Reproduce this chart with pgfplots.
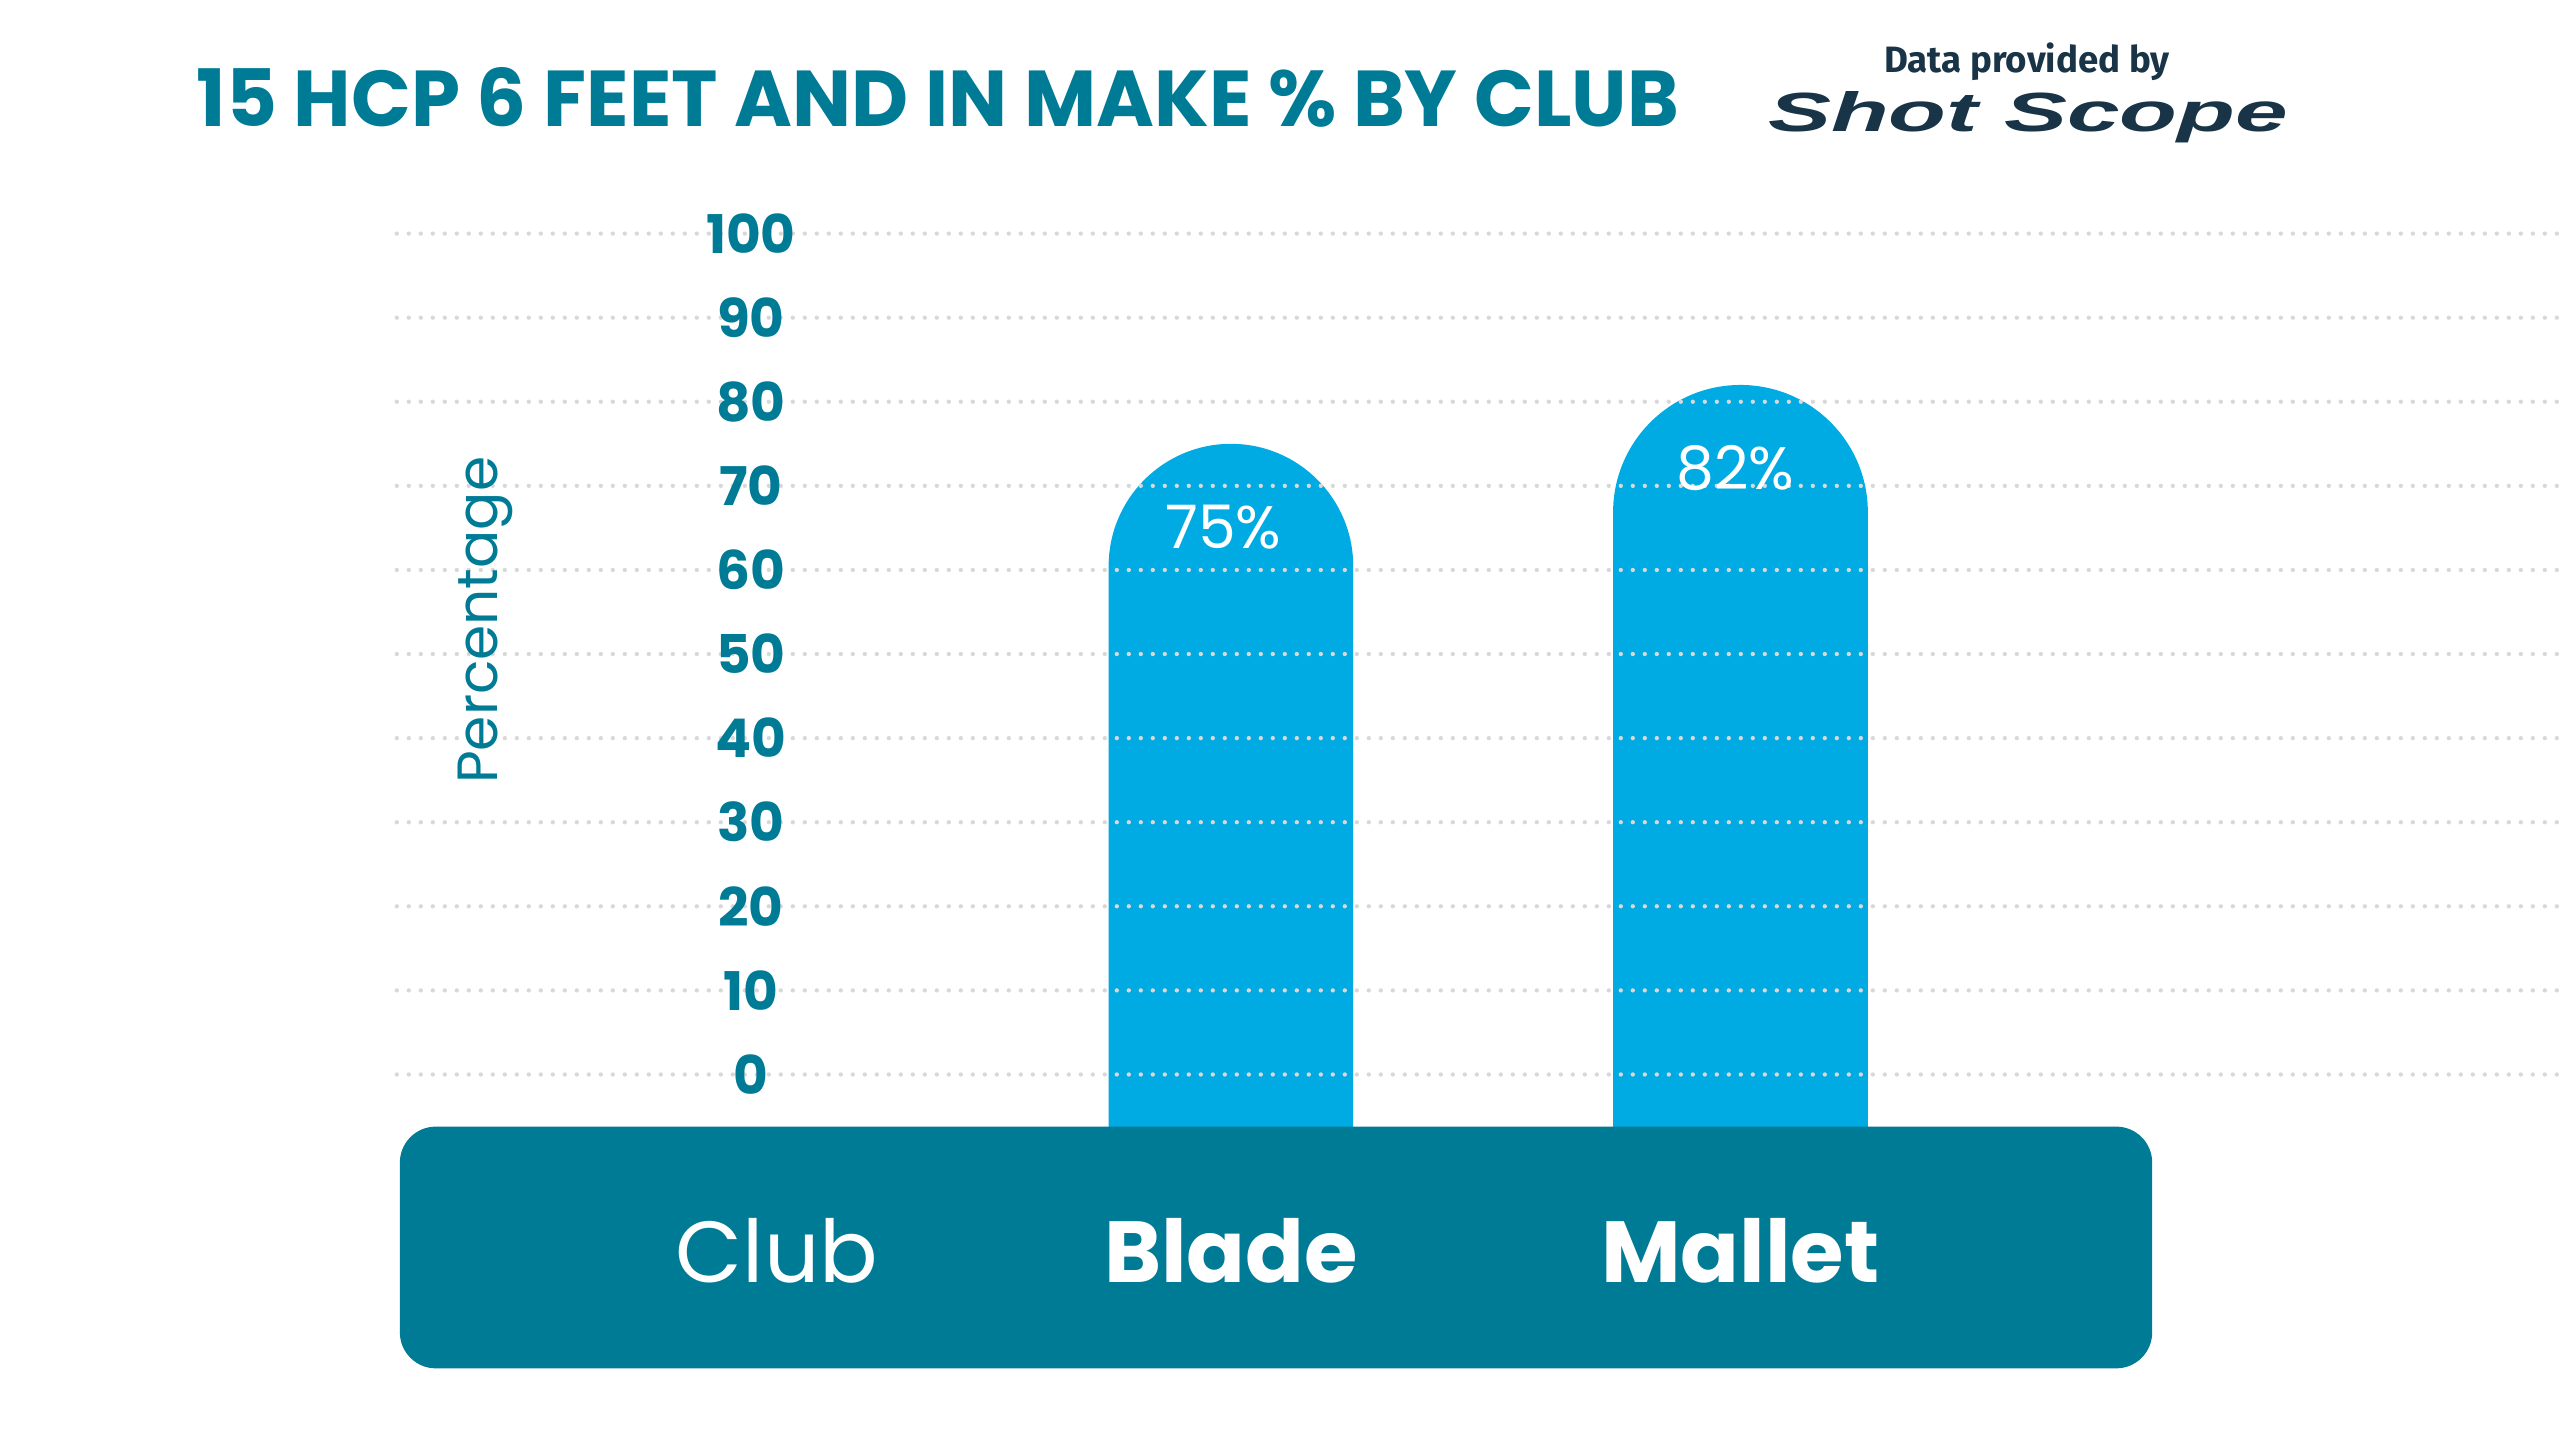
\documentclass[border=0pt]{standalone}
\usepackage{fontspec}
\setmainfont{Poppins}
\newfontfamily\logofont{Liberation Sans}
\newfontfamily\datafont{Fira Sans}
\usepackage{graphicx}
\usepackage{pgfplots}
\pgfplotsset{compat=1.18}
\definecolor{hteal}{RGB}{0,123,150}
\definecolor{hbar}{RGB}{0,171,228}
\definecolor{hgrid}{RGB}{216,216,216}
\definecolor{hnavy}{RGB}{24,52,70}
\begin{document}
\begin{tikzpicture}
\useasboundingbox (0,0) rectangle (768pt,432pt);
\node[anchor=base west, inner sep=0, text=hteal] at (58.8pt,393.9pt) {\resizebox{444.6pt}{17.7pt}{\bfseries 15 HCP 6 FEET AND IN MAKE \% BY CLUB}};
\node[text=hnavy, inner sep=0, font=\datafont\fontsize{11}{11}\selectfont\bfseries] at (608.1pt,413.4pt) {Data provided by};
\node[text=hnavy, anchor=base, inner sep=0] at (608.4pt,392.4pt) {\resizebox{156pt}{12pt}{\logofont\bfseries\itshape Shot Scope}};
\begin{axis}[
 at={(119.04pt,94.02pt)}, anchor=south west,
 scale only axis, width=648.9pt, height=267.9pt,
 xmin=-0.637, xmax=3.608, ymin=-6.2, ymax=100,
 clip=false,
 axis lines=left, axis line style={draw=none}, major tick length=0pt, tick style={draw=none},
 ytick={0,10,...,100}, yticklabels={0,10,20,30,40,50,60,70,80,90,100},
 yticklabel style={anchor=center, xshift=106.2pt, font=\fontsize{16}{16}\selectfont\bfseries, text=hteal},
 xtick={1,2}, xticklabels={Blade,Mallet},
 xticklabel style={anchor=center, yshift=-37.2pt, font=\fontsize{26}{26}\selectfont\bfseries, text=white},
 ymajorgrids, grid style={hgrid, line width=1.3pt, line cap=round, dash pattern=on 0pt off 3.6pt},
 axis on top,
 ylabel={Percentage},
 every axis y label/.style={at={(rel axis cs:0.0408,0.567)}, rotate=90, anchor=center, font=\fontsize{17}{17}\selectfont, text=hteal},
]
\addplot[fill=hbar, draw=none, mark=none, rounded corners=36.7pt, forget plot] coordinates {(0.76,-30) (0.76,75) (1.24,75) (1.24,-30)};
\addplot[fill=hbar, draw=none, mark=none, rounded corners=38.2pt, forget plot] coordinates {(1.75,-30) (1.75,82) (2.25,82) (2.25,-30)};
\addplot[draw=none, mark=none, nodes near coords, point meta=explicit symbolic,
  nodes near coords style={anchor=center, yshift=-25pt, text=white, font=\fontsize{18}{18}\selectfont}, forget plot]
  coordinates {(0.985,75) [75\%] (1.99,82) [82\%]};
\fill[hteal, rounded corners=10.8pt] (axis cs:-0.631,-6.2) rectangle (axis cs:2.808,-34.95);
\node[text=white, font=\fontsize{26}{26}\selectfont] at (axis cs:0.109,-20.94) {Club};
\end{axis}
\end{tikzpicture}
\end{document}
